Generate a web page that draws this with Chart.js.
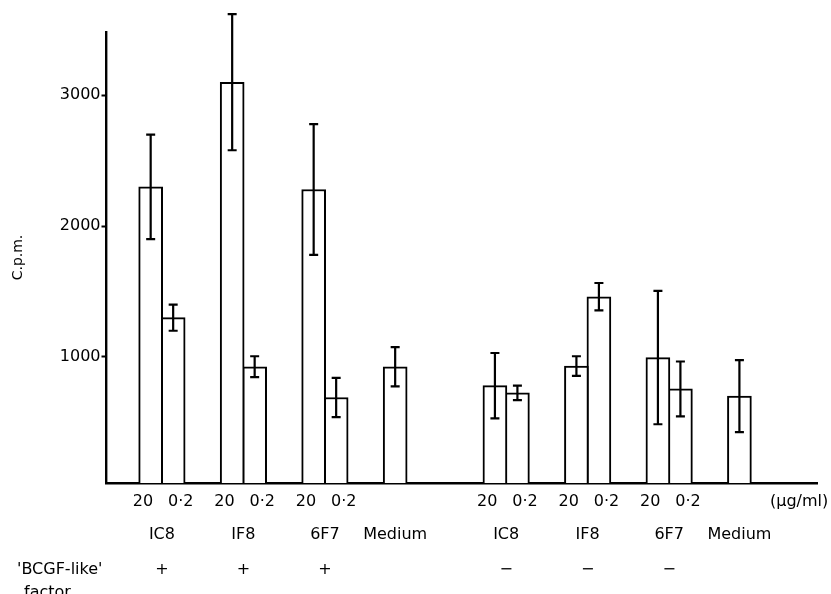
<!DOCTYPE html>
<html>
<head>
<meta charset="utf-8">
<script src="https://cdn.jsdelivr.net/npm/chart.js@4"></script>
<style>
body{margin:0;background:#fff}
#chart{display:block}
</style>
</head>
<body>
<canvas id="chart" width="831" height="594"></canvas>
<script>

let groups=["IC8","IF8","6F7","Medium","IC8","IF8","6F7","Medium"]
let factor=["+","+","+","","−","−","−",""]
let doses=["20","0·2"]

let mean20=[2300,3100,2280,925,780,930,995,700]
let err20=[400,520,500,150,250,75,510,275]
let mean02=[1300,925,690,null,725,1460,755,null]
let err02=[100,80,150,null,55,105,210,null]

let yTicks=[1000,2000,3000]

// layout in group units
let halfGap=0.224
let pairOff=0.138
let labelOff=0.232

function groupX(i){
return i+1+(i>=4?halfGap:0)
}

let ink="#000"

let bars20=[]
let bars02=[]
let doseTicks=[]
let groupTicks=[]

groups.forEach((g,i)=>{

let cx=groupX(i)

if(mean02[i]==null){
bars20.push({x:cx-pairOff,y:mean20[i],err:err20[i]})
groupTicks.push({value:cx-pairOff,label:[g,factor[i]]})
return
}

bars20.push({x:cx-pairOff,y:mean20[i],err:err20[i]})
bars02.push({x:cx+pairOff,y:mean02[i],err:err02[i]})
doseTicks.push({value:cx-labelOff,label:doses[0]})
doseTicks.push({value:cx+labelOff,label:doses[1]})
groupTicks.push({value:cx,label:[g,factor[i]]})

})

let errorBars={
id:"errorBars",
afterDatasetsDraw(chart){
let ctx=chart.ctx
let y=chart.scales.y
ctx.save()
ctx.strokeStyle=ink
ctx.lineWidth=2.2
chart.data.datasets.forEach((ds,di)=>{
let meta=chart.getDatasetMeta(di)
meta.data.forEach((bar,j)=>{
let p=ds.data[j]
let top=y.getPixelForValue(p.y+p.err)
let bot=y.getPixelForValue(p.y-p.err)
ctx.beginPath()
ctx.moveTo(bar.x,top)
ctx.lineTo(bar.x,bot)
ctx.moveTo(bar.x-4.5,top)
ctx.lineTo(bar.x+4.5,top)
ctx.moveTo(bar.x-4.5,bot)
ctx.lineTo(bar.x+4.5,bot)
ctx.stroke()
})
})
ctx.restore()
}
}

let extraText={
id:"extraText",
afterDraw(chart){
let ctx=chart.ctx
ctx.save()
ctx.fillStyle=ink
ctx.font="16px 'DejaVu Sans'"
ctx.textBaseline="middle"
ctx.textAlign="left"
ctx.fillText("(μg/ml)",770,502)
ctx.fillText("'BCGF-like'",17,570)
ctx.textBaseline="alphabetic"
ctx.fillText("factor",24,597)
ctx.restore()
}
}

Chart.defaults.font.family="'DejaVu Sans', sans-serif"
Chart.defaults.color=ink

let barStyle={
backgroundColor:"#fff",
borderColor:ink,
borderWidth:2,
barThickness:24,
grouped:false
}

new Chart(document.getElementById("chart"),{
type:"bar",
data:{
datasets:[
Object.assign({label:doses[0],data:bars20},barStyle),
Object.assign({label:doses[1],data:bars02},barStyle)
]
},
options:{
responsive:false,
animation:false,
layout:{padding:{left:0,top:32,right:14,bottom:0}},
plugins:{legend:{display:false},tooltip:{enabled:false}},
scales:{
x:{
type:"linear",
position:"bottom",
weight:0,
z:1,
min:0.32,
max:9.038,
offset:false,
grid:{display:false,drawTicks:false,offset:false},
border:{display:true,color:ink,width:2.4},
ticks:{autoSkip:false,maxRotation:0,padding:9,font:{size:16},callback:(v,i)=>doseTicks[i]?doseTicks[i].label:""},
afterBuildTicks:s=>{s.ticks=doseTicks.map(t=>({value:t.value}))},
afterFit:s=>{s.height=30}
},
x2:{
type:"linear",
position:"bottom",
axis:"x",
weight:1,
min:0.32,
max:9.038,
offset:false,
grid:{display:false,drawTicks:false},
border:{display:false},
ticks:{autoSkip:false,maxRotation:0,padding:5,font:{size:16,lineHeight:2.14},callback:(v,i)=>groupTicks[i]?groupTicks[i].label:""},
afterBuildTicks:s=>{s.ticks=groupTicks.map(t=>({value:t.value}))},
afterFit:s=>{s.height=81}
},
y:{
min:36,
max:3484,
beginAtZero:false,
z:1,
grid:{display:true,drawOnChartArea:false,drawTicks:true,tickLength:5,tickColor:ink,tickWidth:2},
border:{display:true,color:ink,width:2.4},
ticks:{padding:1,font:{size:16},callback:v=>String(v)},
afterBuildTicks:s=>{s.ticks=yTicks.map(v=>({value:v}))},
title:{display:true,text:"C.p.m.",font:{size:14},padding:{top:10,bottom:0}},
afterFit:s=>{s.width=106.5}
}
}
},
plugins:[errorBars,extraText]
})

</script>
</body>
</html>
